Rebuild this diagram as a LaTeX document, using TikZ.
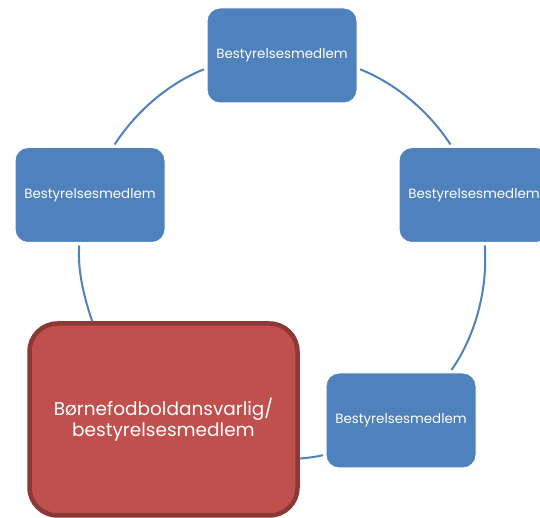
\documentclass[tikz,border=0pt]{standalone}
\usepackage{fontspec}
\setmainfont{Poppins}
\definecolor{boxblue}{HTML}{4F81BD}
\definecolor{boxred}{HTML}{C0504D}
\definecolor{boxredline}{HTML}{8C3836}
\begin{document}
\begin{tikzpicture}[x=1pt, y=1pt,
  member/.style={rectangle, rounded corners=13pt, fill=boxblue, draw=white, line width=1pt, minimum width=150pt, minimum height=95pt, outer sep=3pt, text=white, font=\fontsize{13.4}{16}\selectfont},
  chief/.style={rectangle, rounded corners=28pt, fill=boxred, draw=boxredline, line width=4.5pt, minimum width=268pt, minimum height=192pt, text=white, align=center, font=\fontsize{18.5}{21.5}\selectfont},
  link/.style={draw=boxblue, line width=2pt, looseness=0.85}]
\clip (0, 0) rectangle (540, 518);
\node (B1) at (282, 462.5) [member] {Bestyrelsesmedlem};
\node (B2) at (474, 323) [member] {Bestyrelsesmedlem};
\node (B3) at (401, 97.5) [member] {Bestyrelsesmedlem};
\node (B4) at (90, 323) [member] {Bestyrelsesmedlem};
\node (F) at (163.5, 98.5) [chief] {Børnefodboldansvarlig/\\bestyrelsesmedlem};

\draw[link] (B1.-10.9) to[out=-21.8, in=123] (B2.115.4);
\draw[link] (B2.-78.8) to[out=-85.7, in=55.1] (B3.45.5);
\draw[link] (B3.204.5) to[out=-167.4, in=5.1] (F.-16.2);
\draw[link] (F.126.8) to[out=108.3, in=265.7] (B4.258.8);
\draw[link] (B4.64.6) to[out=57, in=201.8] (B1.190.9);
\end{tikzpicture}
\end{document}
